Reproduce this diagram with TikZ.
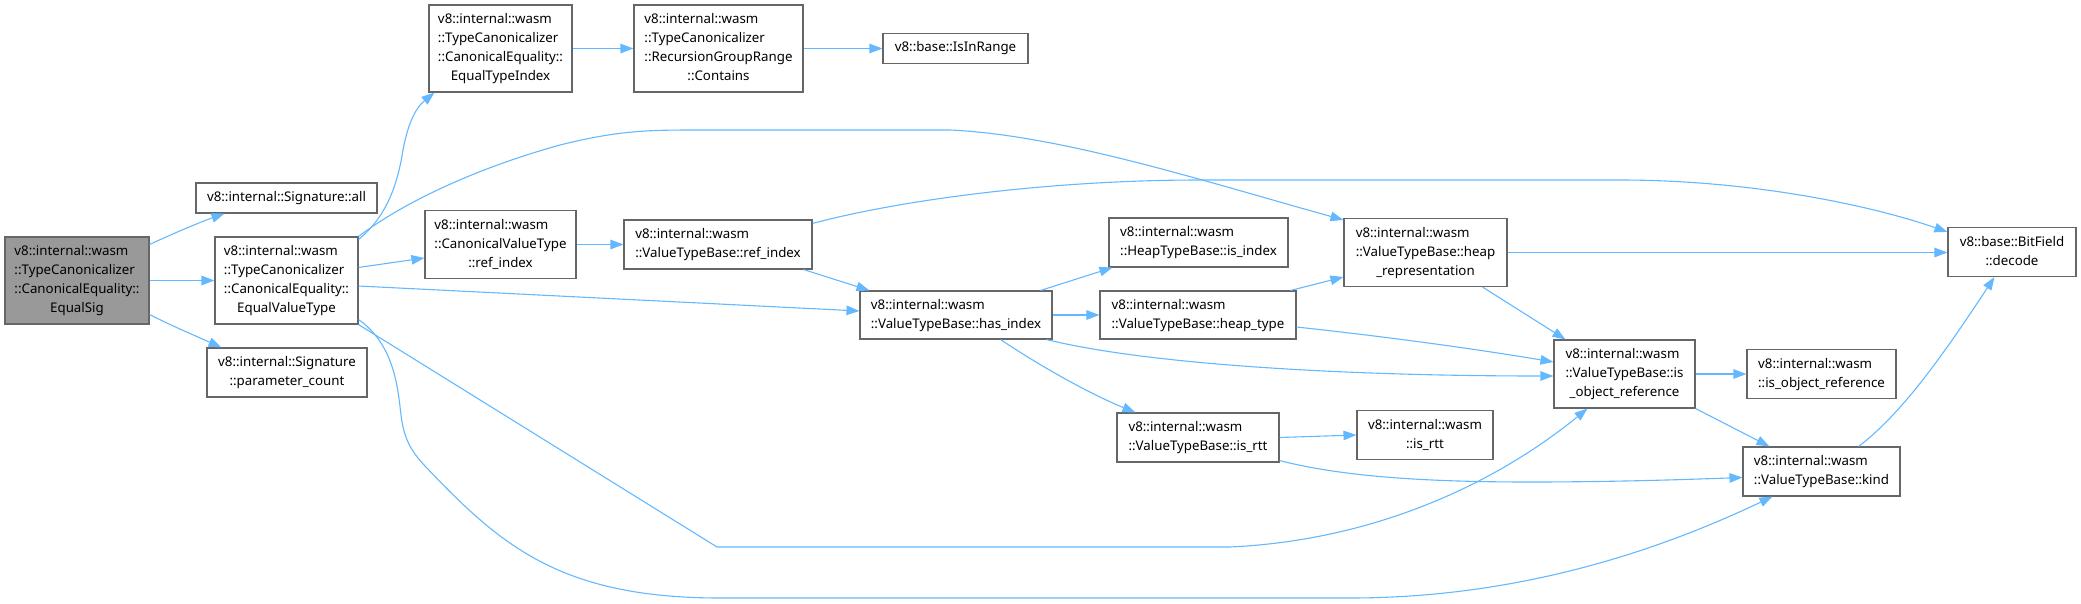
\documentclass[tikz,border=0pt]{standalone}
\usepackage{fontspec}
\setmainfont{Noto Sans}
\usetikzlibrary{arrows.meta}
\definecolor{edgeblue}{HTML}{63B8FF}
\definecolor{boxgray}{HTML}{666666}
\definecolor{rootgray}{HTML}{999999}
\newcommand{\fnlbl}[2]{\begin{tabular}{@{}l@{}}#1\\\multicolumn{1}{@{}c@{}}{#2}\end{tabular}}
\tikzset{
  fn/.style={draw=boxgray, line width=1.1pt, fill=white, inner sep=0pt,
    font=\fontsize{13.3}{19}\selectfont},
  call/.style={draw=edgeblue, line width=1.1pt, -{Triangle[length=13pt,width=9.5pt]}}
}

\begin{document}
\begin{tikzpicture}[x=1pt,y=-1pt]
  \useasboundingbox (0,0) rectangle (2081,603);
  \node[fn, fill=rootgray, minimum width=144pt, minimum height=87pt] (sig) at (77,280.5)
    {\fnlbl{v8::internal::wasm\\::TypeCanonicalizer\\::CanonicalEquality::}{EqualSig}};
  \node[fn, minimum width=181pt, minimum height=30pt] (all) at (286.5,198) {v8::internal::Signature::all};
  \node[fn, minimum width=143pt, minimum height=87pt] (evt) at (286.5,280.5)
    {\fnlbl{v8::internal::wasm\\::TypeCanonicalizer\\::CanonicalEquality::}{EqualValueType}};
  \node[fn, minimum width=160pt, minimum height=49pt] (pcount) at (287,372.5)
    {\fnlbl{v8::internal::Signature}{::parameter\_count}};
  \node[fn, minimum width=143pt, minimum height=87pt] (eti) at (500.5,48.5)
    {\fnlbl{v8::internal::wasm\\::TypeCanonicalizer\\::CanonicalEquality::}{EqualTypeIndex}};
  \node[fn, minimum width=169pt, minimum height=87pt] (contains) at (718.5,48.5)
    {\fnlbl{v8::internal::wasm\\::TypeCanonicalizer\\::RecursionGroupRange}{::Contains}};
  \node[fn, minimum width=145pt, minimum height=30pt] (inrange) at (955.5,48.5) {v8::base::IsInRange};
  \node[fn, minimum width=151pt, minimum height=68pt] (cvtref) at (500.5,244.5)
    {\fnlbl{v8::internal::wasm\\::CanonicalValueType}{::ref\_index}};
  \node[fn, minimum width=188pt, minimum height=49pt] (vtbref) at (718,244.5)
    {\fnlbl{v8::internal::wasm}{::ValueTypeBase::ref\_index}};
  \node[fn, minimum width=179pt, minimum height=49pt] (isindex) at (1198.5,242.5)
    {\fnlbl{v8::internal::wasm}{::HeapTypeBase::is\_index}};
  \node[fn, minimum width=192pt, minimum height=48pt] (hasindex) at (956,315)
    {\fnlbl{v8::internal::wasm}{::ValueTypeBase::has\_index}};
  \node[fn, minimum width=196pt, minimum height=48pt] (heaptype) at (1198,315)
    {\fnlbl{v8::internal::wasm}{::ValueTypeBase::heap\_type}};
  \node[fn, minimum width=162pt, minimum height=49pt] (isrttv) at (1198,437.5)
    {\fnlbl{v8::internal::wasm}{::ValueTypeBase::is\_rtt}};
  \node[fn, minimum width=163pt, minimum height=68pt] (heaprep) at (1425.5,252.5)
    {\fnlbl{v8::internal::wasm\\::ValueTypeBase::heap}{\_representation}};
  \node[fn, minimum width=136pt, minimum height=49pt] (isrttw) at (1425,435)
    {\fnlbl{v8::internal::wasm}{::is\_rtt}};
  \node[fn, minimum width=141pt, minimum height=68pt] (isobj) at (1624.5,374)
    {\fnlbl{v8::internal::wasm\\::ValueTypeBase::is}{\_object\_reference}};
  \node[fn, minimum width=149pt, minimum height=49pt] (isobjw) at (1821.5,374)
    {\fnlbl{v8::internal::wasm}{::is\_object\_reference}};
  \node[fn, minimum width=157pt, minimum height=49pt] (kind) at (1821.5,471.5)
    {\fnlbl{v8::internal::wasm}{::ValueTypeBase::kind}};
  \node[fn, minimum width=128pt, minimum height=49pt] (decode) at (2012,252)
    {\fnlbl{v8::base::BitField}{::decode}};

  \draw[call] ([yshift=-8pt]sig.north east) .. controls (168,236) and (195,224) .. ([xshift=29pt]all.south west);
  \draw[call] (sig.east) -- (evt.west);
  \draw[call] ([yshift=10pt]sig.south east) .. controls (170,325) and (198,337) .. ([xshift=15pt]pcount.north west);
  \draw[call] ([yshift=-3pt]evt.north east) .. controls (385,218) and (397,188) .. (403,150)
    .. controls (409,118) and (418,106) .. ([xshift=6pt]eti.south west);
  \draw[call] (evt.north east) .. controls (400,205) and (470,170) .. (560,145)
    .. controls (620,130) and (650,130) .. (700,130) -- (950,130)
    .. controls (1060,135) and (1200,180) .. ([yshift=-2pt]heaprep.north west);
  \draw[call] ([yshift=-31pt]evt.north east) -- ([yshift=-13.5pt]cvtref.west);
  \draw[call] ([yshift=-5.5pt]evt.east) -- ([yshift=4pt]hasindex.west);
  \draw[call] (evt.south east) -- (717,547) -- (1230,547)
    .. controls (1380,540) and (1500,480) .. ([xshift=34pt]isobj.south west);
  \draw[call] ([yshift=5pt]evt.south east) .. controls (395,345) and (398,390) .. (401,415)
    .. controls (404,440) and (412,452) .. (425,466) .. controls (500,545) and (560,598) .. (720,598)
    -- (1350,598) .. controls (1520,598) and (1660,550) .. ([xshift=30pt]kind.south west);
  \draw[call] (eti.east) -- (contains.west);
  \draw[call] (contains.east) -- (inrange.west);
  \draw[call] (cvtref.east) -- (vtbref.west);
  \draw[call] ([yshift=-4pt]vtbref.north east) .. controls (900,200) and (1050,180) .. (1200,180)
    -- (1620,180) .. controls (1750,180) and (1870,205) .. ([yshift=-5pt]decode.north west);
  \draw[call] ([xshift=-9pt]vtbref.south east) -- ([xshift=10pt]hasindex.north west);
  \draw[call] ([xshift=-12pt]hasindex.north east) -- ([xshift=4pt]isindex.south west);
  \draw[call] (hasindex.east) -- (heaptype.west);
  \draw[call] ([xshift=-52pt]hasindex.south east) .. controls (1040,366) and (1090,394) .. ([xshift=19pt]isrttv.north west);
  \draw[call] ([xshift=-6pt]hasindex.south east) .. controls (1150,365) and (1350,376) .. ([yshift=-2pt]isobj.west);
  \draw[call] ([xshift=-6pt]heaptype.north east) -- ([yshift=10pt]heaprep.south west);
  \draw[call] ([yshift=-12pt]heaptype.east) .. controls (1380,336) and (1470,348) .. ([yshift=12pt]isobj.west);
  \draw[call] (heaprep.east) -- (heaprep.east -| decode.west);
  \draw[call] ([xshift=-25pt]heaprep.south east) -- ([xshift=12pt]isobj.north west);
  \draw[call] (isobj.east) -- (isobjw.west);
  \draw[call] (isobj.south east) -- ([xshift=27pt]kind.north west);
  \draw[call] ([xshift=-42pt]kind.north east) .. controls (1900,415) and (1940,360) .. ([xshift=47pt]decode.south west);
  \draw[call] (isrttv.east) -- (isrttw.west);
  \draw[call] ([yshift=2pt]isrttv.south east) .. controls (1340,476) and (1420,482) .. (1530,482)
    .. controls (1620,482) and (1700,479) .. ([yshift=-6pt]kind.west);
\end{tikzpicture}
\end{document}
